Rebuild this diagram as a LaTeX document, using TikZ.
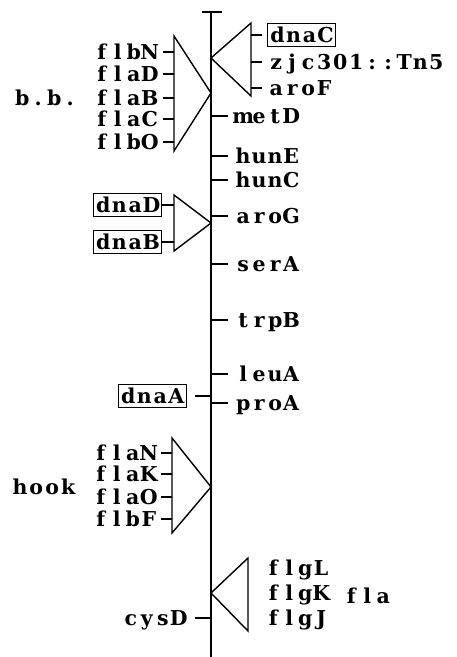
\documentclass[tikz,border=0pt]{standalone}
\usepackage{fontspec}
\setmainfont{DejaVu Serif}
% set each character in a fixed-width cell (typewriter-like spacing)
\newcommand\cells[1]{\expandafter\cellsX#1\relax}
\def\cellsX#1{\ifx\relax#1\else\makebox[16pt]{#1}\expandafter\cellsX\fi}
\newcommand\ecells[1]{\expandafter\cells\expandafter{#1}}
\begin{document}
\begin{tikzpicture}[x=1pt,y=-1pt,
  axis/.style={line width=1.6pt},
  tri/.style={line width=1.4pt, line join=miter},
  tick/.style={line width=1.4pt},
  lbl/.style={font=\fontsize{20.5}{20.5}\selectfont\bfseries, inner sep=0pt,
              text height=14pt, text depth=0pt},
  rlab/.style={lbl, anchor=west},
  llab/.style={lbl, anchor=east},
  boxed/.style={draw, line width=1.2pt, inner xsep=2pt, inner ysep=4.5pt}]
\useasboundingbox (0,0) rectangle (456,657);

% chromosome axis with end bar
\coordinate (top) at (211,12);
\coordinate (bot) at (211,657);
\coordinate (barL) at (202,12);
\coordinate (barR) at (222,12);
\draw[axis] (top) -- (bot);
\draw[axis] (barL) -- (barR);

% single loci to the right of the axis
\foreach \g/\y in {metD/116, hunE/156, hunC/180, aroG/216, serA/264,
                   trpB/320, leuA/374, proA/403} {
  \coordinate (ax-\g) at (211,\y);
  \node[rlab] (\g) at (235,\y) {\ecells{\g}};
  \draw[tick, shorten >=7pt] (ax-\g) -- (\g.west);
}

% cluster dnaC / zjc301::Tn5 / aroF
\coordinate (tA) at (211,58);
\coordinate (tAt) at (251,23);
\coordinate (tAb) at (251,96);
\draw[tri] (tA) -- (tAt) -- (tAb) -- cycle;
\node[rlab, boxed] (dnaC) at (267,35) {\cells{dnaC}};
\node[rlab] (zjc) at (268,62) {\cells{zjc301::Tn5}};
\node[rlab] (aroF) at (268,88) {\cells{aroF}};
\coordinate (sA1) at (251,35);
\coordinate (sA2) at (251,62);
\coordinate (sA3) at (251,88);
\draw[tick, shorten >=5pt] (sA1) -- (dnaC.west);
\draw[tick, shorten >=6pt] (sA2) -- (zjc.west);
\draw[tick, shorten >=6pt] (sA3) -- (aroF.west);

% basal body cluster
\coordinate (tB) at (211,93);
\coordinate (tBt) at (174,36);
\coordinate (tBb) at (174,151);
\draw[tri] (tB) -- (tBt) -- (tBb) -- cycle;
\foreach \g/\y in {flbN/52, flaD/74, flaB/98, flaC/119, flbO/142} {
  \coordinate (sB-\g) at (174,\y);
  \node[llab] (\g) at (158,\y) {\ecells{\g}};
  \draw[tick, shorten >=5pt] (sB-\g) -- (\g.east);
}
\node[rlab] (bb) at (14,98) {\cells{b.b.}};

% dnaD / dnaB cluster
\coordinate (tC) at (211,223);
\coordinate (tCt) at (174,195);
\coordinate (tCb) at (174,251);
\draw[tri] (tC) -- (tCt) -- (tCb) -- cycle;
\node[llab, boxed] (dnaD) at (162,205) {\cells{dnaD}};
\node[llab, boxed] (dnaB) at (162,242) {\cells{dnaB}};
\coordinate (sC1) at (174,205);
\coordinate (sC2) at (174,242);
\draw[tick] (sC1) -- (dnaD.east);
\draw[tick] (sC2) -- (dnaB.east);

% dnaA
\coordinate (ax-dnaA) at (211,396);
\node[llab, boxed] (dnaA) at (187,396) {\cells{dnaA}};
\draw[tick, shorten >=8pt] (ax-dnaA) -- (dnaA.east);

% hook cluster
\coordinate (tD) at (211,487);
\coordinate (tDt) at (172,438);
\coordinate (tDb) at (172,533);
\draw[tri] (tD) -- (tDt) -- (tDb) -- cycle;
\foreach \g/\y in {flaN/453, flaK/474, flaO/497, flbF/519} {
  \coordinate (sD-\g) at (172,\y);
  \node[llab] (\g) at (157,\y) {\ecells{\g}};
  \draw[tick, shorten >=4pt] (sD-\g) -- (\g.east);
}
\node[rlab] (hook) at (12,487) {\cells{hook}};

% flg cluster
\coordinate (tE) at (211,593);
\coordinate (tEt) at (248,558);
\coordinate (tEb) at (248,631);
\draw[tri] (tE) -- (tEt) -- (tEb) -- cycle;
\node[rlab] (flgL) at (265,568) {\cells{flgL}};
\node[rlab] (flgK) at (265,593) {\cells{flgK}};
\node[rlab] (flgJ) at (265,618) {\cells{flgJ}};
\node[rlab] (fla) at (343,596) {\cells{fla}};

% cysD
\coordinate (ax-cysD) at (211,618);
\node[llab] (cysD) at (187,618) {\cells{cysD}};
\draw[tick, shorten >=8pt] (ax-cysD) -- (cysD.east);
\end{tikzpicture}
\end{document}
